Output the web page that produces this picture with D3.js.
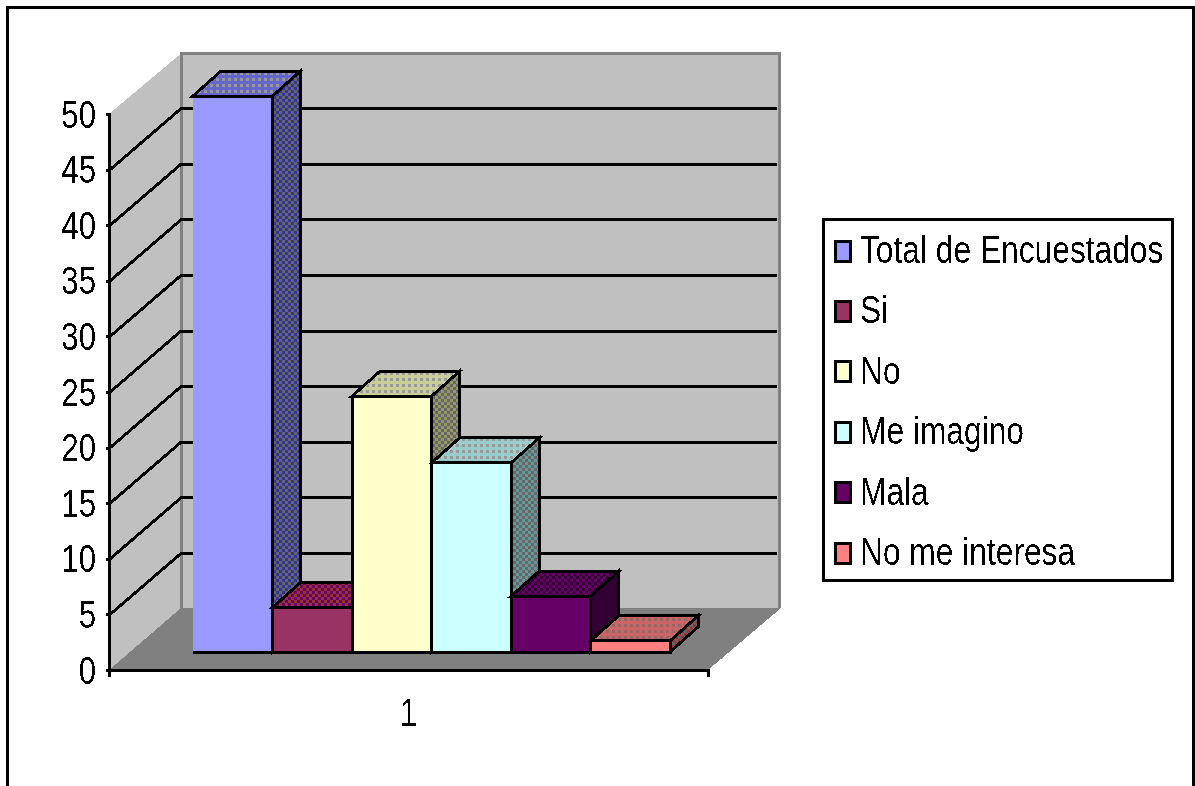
<!DOCTYPE html>
<html><head><meta charset="utf-8">
<script src="https://cdn.jsdelivr.net/npm/d3@7"></script>
<style>
html,body{margin:0;padding:0;background:#fff;overflow:hidden}
svg{display:block}
text{font-family:"Liberation Sans",Arial,sans-serif;font-size:38px;fill:#000}
</style></head><body>
<svg id="c" width="1195" height="786"></svg>
<script>
const categories = ["Total de Encuestados","Si","No","Me imagino","Mala","No me interesa"];
const values = [50,4,23,17,5,1];
const frontColors = ["#9999FF","#993366","#FFFFCC","#CCFFFF","#660066","#FF8080"];
const topColors = [["#6666CC","#999999"],["#660066","#993333"],["#CCCC99","#999999"],["#99CCCC","#999999"],["#660066","#330033"],["#CC6666","#996666"]];
const sideColors = [["#333399","#666666"],["#333399","#666666"],["#999966","#666666"],["#669999","#666666"],["#330033","#330033"],["#993333","#666666"]];
const yTicks = [0,5,10,15,20,25,30,35,40,45,50];
const xLabels = ["1"];

const svg = d3.select("#c");
const squeeze = 0.82, legendSqueeze = 0.835;
const defs = svg.append("defs");
const f = defs.append("filter").attr("id","px").attr("x","-5%").attr("y","-20%").attr("width","110%").attr("height","140%");
f.append("feComponentTransfer").append("feFuncA").attr("type","discrete").attr("tableValues","0 0 1 1");

function checker(id,[a,b]){
  const p = defs.append("pattern").attr("id",id).attr("patternUnits","userSpaceOnUse").attr("width",6).attr("height",6);
  p.append("rect").attr("width",6).attr("height",6).attr("fill",a);
  p.append("rect").attr("width",3).attr("height",3).attr("fill",b);
  p.append("rect").attr("x",3).attr("y",3).attr("width",3).attr("height",3).attr("fill",b);
}
function dots(id,[a,b]){
  const p = defs.append("pattern").attr("id",id).attr("patternUnits","userSpaceOnUse").attr("width",6).attr("height",6);
  p.append("rect").attr("width",6).attr("height",6).attr("fill",a);
  p.append("rect").attr("width",3).attr("height",3).attr("fill",b);
}
sideColors.forEach((c,i)=>checker("side"+i,c));
topColors.forEach((c,i)=>(i===1||i===4?checker:dots)("top"+i,c));

// Chart box geometry
const depthX = 72, depthY = -62;
const yAxisScale = d3.scaleLinear().domain([0,50]).range([670,114]);
const xAxisScale = d3.scaleBand().domain(xLabels).range([109,708]);
const barY = d3.scaleLinear().domain([0,50]).range([652,96]);
const barX = d3.scaleBand().domain(categories).range([193,670]);
const barDX = 28, barDY = -25;

const x0 = 109, x1 = 708;
const poly = pts => d3.line()(pts)+"Z";
const y0 = yAxisScale(0), yTop = yAxisScale(50);
const backTop = yTop+depthY+1.5;

// outer frame
svg.append("path").attr("d",d3.line()([[7.5,786],[7.5,7.5],[1193.5,7.5],[1193.5,786]]))
  .attr("fill","none").attr("stroke","#000").attr("stroke-width",3);

// walls and floor
const wallG = svg.append("g").attr("shape-rendering","crispEdges");
wallG.append("path").attr("d",poly([[x0,y0],[x0+depthX,y0+depthY],[x0+depthX,backTop],[x0,yTop]])).attr("fill","#C0C0C0");
wallG.append("path").attr("d",poly([[x0+depthX,y0+depthY],[x1+depthX-1,y0+depthY],[x1+depthX-1,backTop],[x0+depthX,backTop]])).attr("fill","#C0C0C0");
wallG.append("path").attr("d",poly([[x0,y0],[x0+depthX,y0+depthY],[x1+depthX+1,y0+depthY],[x1,y0]])).attr("fill","#808080");
wallG.append("path").attr("d",d3.line()([[x0+depthX,y0+depthY],[x0+depthX,backTop],[x1+depthX-1,backTop],[x1+depthX-1,y0+depthY]]))
  .attr("fill","none").attr("stroke","#808080").attr("stroke-width",3);

// gridlines
yTicks.filter(v=>v>0&&v<50).forEach(v=>{
  const y = yAxisScale(v)+1;
  wallG.append("path").attr("d",d3.line()([[x0,y],[x0+depthX,y+depthY],[x1+depthX-3,y+depthY]]))
    .attr("fill","none").attr("stroke","#000").attr("stroke-width",3);
});

// bars
const barsG = svg.append("g").attr("shape-rendering","crispEdges").attr("stroke","#000").attr("stroke-width",3).attr("stroke-linejoin","miter");
categories.forEach((c,i)=>{
  const l = barX(c), r = l+barX.bandwidth(), t = barY(values[i]), b = barY(0);
  barsG.append("path").attr("d",poly([[r,t],[r+barDX,t+barDY],[r+barDX,b+barDY],[r,b]])).attr("fill",`url(#side${i})`);
  barsG.append("path").attr("d",poly([[l,t],[l+barDX,t+barDY],[r+barDX,t+barDY],[r,t]])).attr("fill",`url(#top${i})`);
  barsG.append("rect").attr("x",l).attr("y",t).attr("width",r-l).attr("height",b-t).attr("fill",frontColors[i]).attr("stroke","none");
  const outline = i===0 ? [[l,t],[r,t],[r,b],[l,b]] : [[l,t],[r,t],[r,b],[l,b],[l,t]];
  barsG.append("path").attr("d",d3.line()(outline)).attr("fill","none");
});

// axes
const yAxis = svg.append("g").attr("transform",`translate(${x0},0)`)
  .call(d3.axisLeft(yAxisScale).tickValues(yTicks).tickSize(3).tickPadding(9));
const xAxis = svg.append("g").attr("transform",`translate(0,${y0})`)
  .call(d3.axisBottom(xAxisScale).tickSize(7).tickSizeOuter(7));
[yAxis,xAxis].forEach(a=>{
  a.attr("font-family",null).attr("font-size",null).attr("shape-rendering","crispEdges");
  a.selectAll("path,line").attr("stroke","#000").attr("stroke-width",3);
  a.selectAll("text").attr("filter","url(#px)");
});
yAxis.selectAll("text").attr("x",0).attr("dy",null)
  .attr("text-anchor","end").attr("y",13)
  .attr("transform",`translate(-13,0) scale(${squeeze},1)`);
xAxis.selectAll(".tick line").remove();
xAxis.selectAll("text").attr("y",0).attr("dy",null).attr("text-anchor","middle")
  .attr("transform",`translate(0,56) scale(${squeeze},1)`);

// legend
const lg = svg.append("g");
lg.append("rect").attr("x",823).attr("y",219).attr("width",349).attr("height",361)
  .attr("fill","#fff").attr("stroke","#000").attr("stroke-width",3).attr("shape-rendering","crispEdges");
const rowY = d3.scalePoint().domain(categories).range([251,553]);
categories.forEach((c,i)=>{
  const y = rowY(c);
  lg.append("rect").attr("x",835).attr("y",y-10).attr("width",15).attr("height",20)
    .attr("fill",frontColors[i]).attr("stroke","#000").attr("stroke-width",3).attr("shape-rendering","crispEdges");
  lg.append("text").text(c).attr("filter","url(#px)")
    .attr("transform",`translate(860,${y+12}) scale(${legendSqueeze},1)`);
});
</script>
</body></html>
